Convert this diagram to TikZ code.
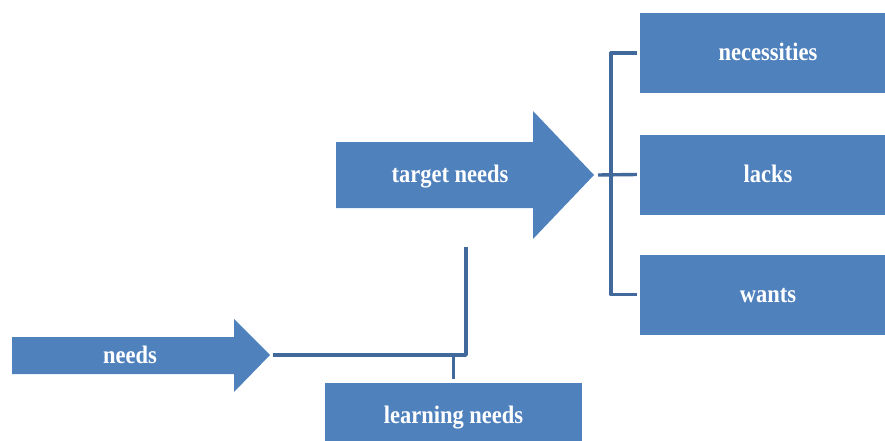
\documentclass[tikz,border=0pt]{standalone}
\usepackage{fontspec}
\setmainfont{Liberation Serif}
\definecolor{boxblue}{HTML}{4F81BD}
\definecolor{lineblue}{HTML}{41699B}
\begin{document}
\begin{tikzpicture}[x=1pt,y=-1pt,
  lbl/.style={text=white,font=\bfseries\fontsize{22.5}{24}\selectfont,inner sep=0pt,text height=16pt,text depth=0pt},
  box/.style={lbl,fill=boxblue,draw=none,minimum width=256pt,minimum height=80pt},
  arrowshape/.style={fill=boxblue,draw=none},
  conn/.style={draw=lineblue,line width=3.4pt,line join=round}]
\useasboundingbox (0,0) rectangle (885,441);
\clip (0,0) rectangle (885,441);
% big arrows
\fill[arrowshape] (336,142) -- (533,142) -- (533,111) -- (594,175) -- (533,239) -- (533,208) -- (336,208) -- cycle;
\fill[arrowshape] (12,337) -- (234,337) -- (234,319) -- (270,355) -- (234,392) -- (234,374) -- (12,374) -- cycle;
\coordinate (ttip) at (594,175);
\coordinate (tbot) at (466,247);
\coordinate (ntip) at (270,355);
\node[lbl] (target) at (450,174) {\scalebox{1}[1.12]{target needs}};
\node[lbl] (needs) at (130,355) {\scalebox{1}[1.12]{needs}};
% boxes
\node[box] (nec) at (768,53) {\scalebox{1}[1.12]{necessities}};
\node[box] (lacks) at (768,174.5) {\scalebox{1}[1.12]{lacks}};
\node[box] (wants) at (768,294.5) {\scalebox{1}[1.12]{wants}};
\node[box,minimum width=257pt,minimum height=64pt] (learn) at (453.5,415) {\scalebox{1}[1.12]{learning needs}};
% connectors
\draw[conn] ([xshift=-3pt]nec.west) -- ++(-26,0) |- ([xshift=-3pt]wants.west);
\draw[conn] ([xshift=4pt]ttip) -- ([xshift=-3pt]lacks.west);
\draw[conn] ([xshift=3pt]ntip) -| (tbot);
\draw[conn] (learn.north |- ntip) -- ([yshift=4pt]learn.north);
\end{tikzpicture}
\end{document}
